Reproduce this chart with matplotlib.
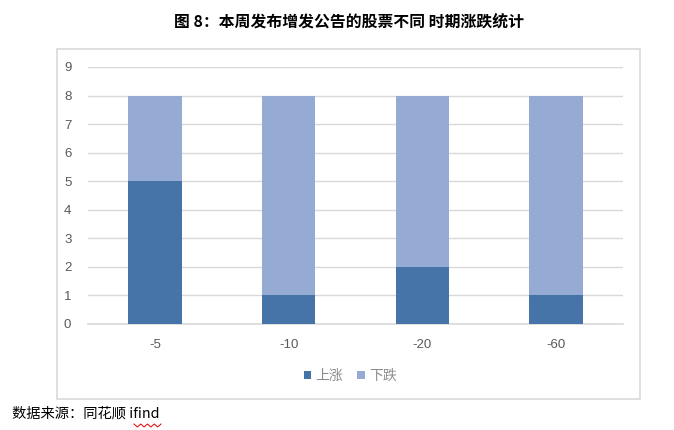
import numpy as np
import matplotlib
matplotlib.use("Agg")
import matplotlib.pyplot as plt
from matplotlib.patches import Rectangle
from matplotlib.lines import Line2D

plt.rcParams["font.family"] = ["Noto Sans CJK SC", "DejaVu Sans"]

# data
periods = ["-5", "-10", "-20", "-60"]
up_counts = [5, 1, 2, 1]
down_counts = [3, 7, 6, 7]
series_names = ["上涨", "下跌"]
title = "图 8：本周发布增发公告的股票不同 时期涨跌统计"
source = "数据来源：同花顺 ifind"

dark_blue = "#4674A9"
light_blue = "#95ABD3"
grid_col = "#D9D9D9"
text_gray = "#595959"

fig = plt.figure(figsize=(6.74, 4.3), dpi=100)

# outer chart frame
fig.add_artist(Rectangle((57 / 674, 1 - 399 / 430), 583 / 674, 350 / 430,
                         transform=fig.transFigure, fill=False,
                         edgecolor="#D9D9D9", linewidth=1.2))

ax = fig.add_axes([88 / 674, 1 - 324 / 430, 535 / 674, 257 / 430])

x = np.arange(len(periods))
ax.bar(x, up_counts, width=0.4, color=dark_blue, label=series_names[0], zorder=3)
ax.bar(x, down_counts, width=0.4, bottom=up_counts, color=light_blue,
       label=series_names[1], zorder=3)

ax.set_xlim(-0.5, len(periods) - 0.5)
ax.set_ylim(0, 9)
ax.set_yticks(range(0, 10))
ax.set_xticks(x)
ax.set_xticklabels(periods)
ax.grid(axis="y", color=grid_col, linewidth=1, zorder=0)
for s in ["top", "right", "left"]:
    ax.spines[s].set_visible(False)
ax.spines["bottom"].set_color(grid_col)
ax.spines["bottom"].set_linewidth(1.2)
ax.tick_params(axis="both", length=0, labelsize=9.5, labelcolor=text_gray)
ax.tick_params(axis="x", pad=11)
ax.tick_params(axis="y", pad=12)
for lbl in ax.get_xticklabels() + ax.get_yticklabels():
    lbl.set_fontfamily(["Liberation Sans", "DejaVu Sans"])

leg = fig.legend(loc="center", bbox_to_anchor=(350 / 674, 1 - 376 / 430), ncol=2,
                 frameon=False, fontsize=10, handlelength=0.55, handleheight=0.55,
                 handletextpad=0.3, columnspacing=1.0)
for t in leg.get_texts():
    t.set_color("#8C8C8C")

fig.text(349 / 674, 1 - 22 / 430, title, ha="center", va="center",
         fontsize=11.4, fontweight="bold", color="black")

fig.text(12 / 674, 1 - 414 / 430, source, ha="left", va="center",
         fontsize=10.3, color="black")

# red wavy underline under "ifind"
zx = np.linspace(134, 161, 9) / 674
zy = (1 - np.array([424, 427] * 5)[:9] / 430)
fig.add_artist(Line2D(zx, zy, transform=fig.transFigure, color="#E00000",
                      linewidth=0.7))

fig.savefig("out.png", dpi=100)
